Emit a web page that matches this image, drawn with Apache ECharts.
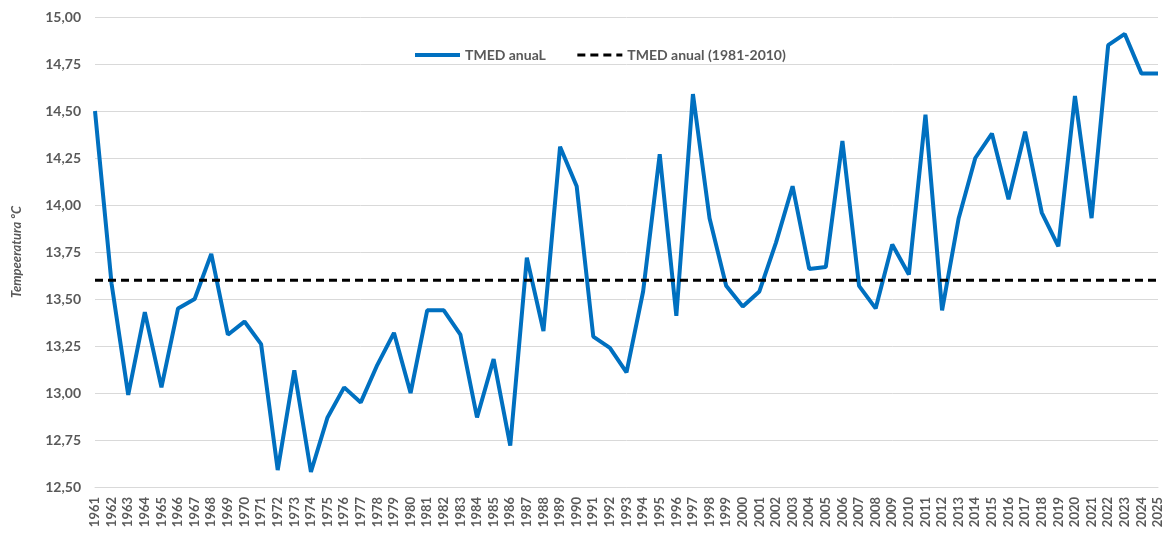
<!DOCTYPE html>
<html>
<head>
<meta charset="utf-8">
<script src="https://cdn.jsdelivr.net/npm/echarts@6/dist/echarts.min.js"></script>
<style>
  html, body { margin: 0; padding: 0; background: #fff; }
  #chart { width: 1168px; height: 536px; }
</style>
</head>
<body>
<div id="chart"></div>
<script>
// 年份
const years = [
    '1961','1962','1963','1964','1965','1966','1967','1968','1969','1970',
    '1971','1972','1973','1974','1975','1976','1977','1978','1979','1980',
    '1981','1982','1983','1984','1985','1986','1987','1988','1989','1990',
    '1991','1992','1993','1994','1995','1996','1997','1998','1999','2000',
    '2001','2002','2003','2004','2005','2006','2007','2008','2009','2010',
    '2011','2012','2013','2014','2015','2016','2017','2018','2019','2020',
    '2021','2022','2023','2024','2025'
];

// TMED anual
const tmedAnual = [
    14.50, 13.58, 12.99, 13.43, 13.03, 13.45, 13.50, 13.74, 13.31, 13.38,
    13.26, 12.59, 13.12, 12.58, 12.87, 13.03, 12.95, 13.15, 13.32, 13.00,
    13.44, 13.44, 13.31, 12.87, 13.18, 12.72, 13.72, 13.33, 14.31, 14.10,
    13.30, 13.24, 13.11, 13.54, 14.27, 13.41, 14.59, 13.93, 13.57, 13.46,
    13.54, 13.80, 14.10, 13.66, 13.67, 14.34, 13.57, 13.45, 13.79, 13.63,
    14.48, 13.44, 13.93, 14.25, 14.38, 14.03, 14.39, 13.96, 13.78, 14.58,
    13.93, 14.85, 14.91, 14.70, 14.70
];

// 1981-2010 平均值
const tmedNormal = 13.60;
const normalLine = years.map(() => tmedNormal);

const fontName = 'Lato';
const textGray = '#595959';

var myChart = echarts.init(document.getElementById('chart'), null, { renderer: 'canvas' });

var option = {
    animation: false,
    legend: {
        left: 413,
        top: 48,
        padding: 0,
        itemWidth: 45,
        itemHeight: 14,
        itemGap: 30,
        itemStyle: { opacity: 0 },
        textStyle: {
            color: textGray,
            fontFamily: fontName,
            fontWeight: 'bold',
            fontSize: 14
        },
        data: [
            { name: 'TMED anuaL', lineStyle: { width: 4 } },
            { name: 'TMED anual (1981-2010)', lineStyle: { width: 3 } }
        ]
    },
    grid: {
        left: 95,
        right: 10,
        top: 17,
        bottom: 49,
        containLabel: false
    },
    xAxis: {
        type: 'category',
        boundaryGap: false,
        data: years,
        axisLine: { lineStyle: { color: '#d9d9d9', width: 1 } },
        axisTick: { show: false },
        axisLabel: {
            rotate: 90,
            interval: 0,
            margin: 10,
            color: textGray,
            fontFamily: fontName,
            fontWeight: 'bold',
            fontSize: 13
        }
    },
    yAxis: {
        type: 'value',
        min: 12.5,
        max: 15,
        interval: 0.25,
        name: 'Tempeeratura ºC',
        nameLocation: 'middle',
        nameGap: 72,
        nameTextStyle: {
            color: textGray,
            fontFamily: fontName,
            fontWeight: 'bold',
            fontStyle: 'italic',
            fontSize: 13
        },
        axisLine: { show: false },
        axisTick: { show: false },
        splitLine: { lineStyle: { color: '#d9d9d9', width: 1 } },
        axisLabel: {
            margin: 14,
            color: textGray,
            fontFamily: fontName,
            fontWeight: 'bold',
            fontSize: 14,
            formatter: function (v) {
                return v.toFixed(2).replace('.', ',');
            }
        }
    },
    series: [
        {
            name: 'TMED anuaL',
            type: 'line',
            data: tmedAnual,
            symbol: 'none',
            lineStyle: { color: '#0070c0', width: 4 },
            itemStyle: { color: '#0070c0' },
            z: 3
        },
        {
            name: 'TMED anual (1981-2010)',
            type: 'line',
            data: normalLine,
            symbol: 'none',
            lineStyle: { color: '#000', width: 3, type: [8, 5] },
            itemStyle: { color: '#000' },
            z: 4
        }
    ]
};

myChart.setOption(option);
</script>
</body>
</html>
